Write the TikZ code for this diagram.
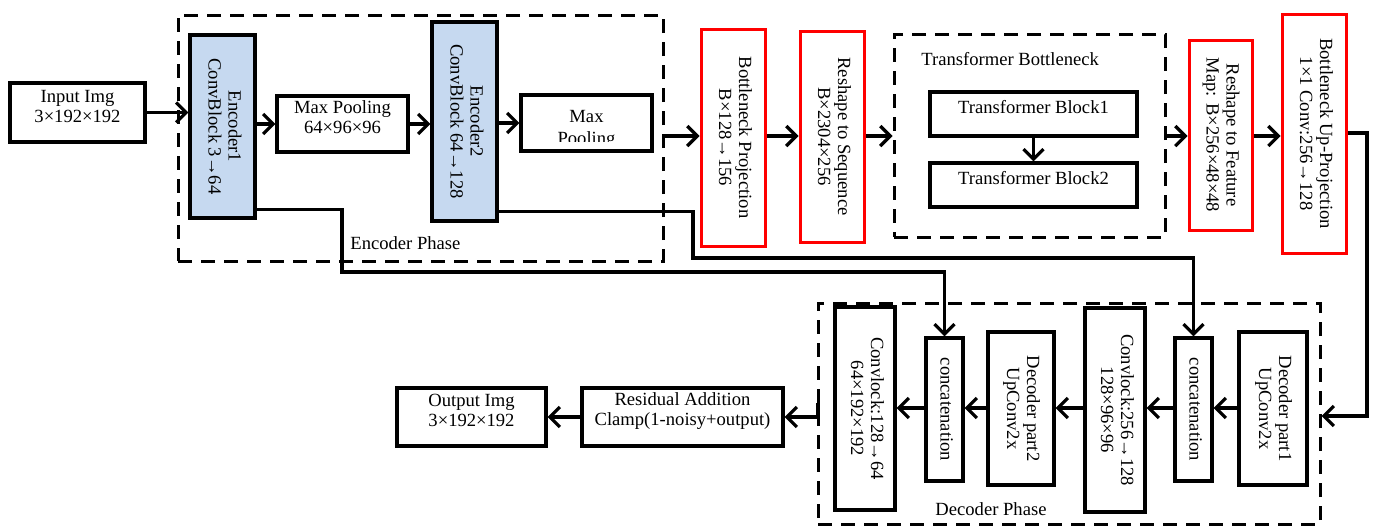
\documentclass[tikz,border=0pt]{standalone}
\usepackage{fontspec}
\setmainfont{Liberation Serif}
\usepackage{graphicx}
\usepackage{xcolor}
\usetikzlibrary{arrows.meta}
\usetikzlibrary{positioning, fit}

\definecolor{encblue}{RGB}{198,217,240}
\newcommand{\vlab}[1]{\rotatebox{-90}{\begin{tabular}{@{}c@{}}#1\end{tabular}}}

\begin{document}
\begin{tikzpicture}[x=0.5pt, y=-0.5pt,
    every node/.style={font=\fontsize{9.3}{10}\selectfont, inner sep=0pt},
    blk/.style={draw, line width=1.6pt, align=center},
    enc/.style={blk, fill=encblue},
    redblk/.style={draw=red, line width=1.5pt, align=center},
    phase/.style={draw, line width=1.5pt, dash pattern=on 7pt off 4.5pt},
    conn/.style={line width=1.6pt, -{Straight Barb[length=5pt,width=10pt]}}]
\useasboundingbox (0,0) rectangle (1374,526);

% encoder phase
\node[phase, fit={(178,15) (663,261)}] (encph) {};
\node[anchor=west] (encl) at (350,243) {Encoder Phase};
\node[blk, align=left, fit={(10,83) (145,142)}] (inimg) {Input Img\\3×192×192};
\node[enc, fit={(190,35) (255,218)}] (enc1) {\vlab{Encoder1\\ConvBlock 3→64}};
\node[blk, fit={(277,96) (408,152)}] (pool1) {Max Pooling\\64×96×96};
\node[enc, fit={(432,22) (497,221)}] (enc2) {\vlab{Encoder2\\ConvBlock 64→128}};
\node[blk, fit={(521,95) (652,151)}] (pool2) {};
\begin{scope}
  \clip (pool2.north west) rectangle ([yshift=5.5pt]pool2.south east);
  \node[align=center, font=\fontsize{9.3}{11}\selectfont] (pool2txt) at (586.5,129) {Max\\Pooling};
\end{scope}

% bottleneck
\node[redblk, fit={(701,29) (765,246)}] (bproj) {\vlab{Bottleneck Projection\\B×128→156}};
\node[redblk, fit={(800,31) (864,242)}] (rseq) {\vlab{Reshape to Sequence\\B×2304×256}};
\node[phase, fit={(894,34) (1165,237)}] (trph) {};
\node[anchor=west] (trl) at (921,59) {Transformer Bottleneck};
\node[blk, fit={(930,92) (1137,136)}] (tb1) {Transformer Block1};
\node[blk, fit={(930,163) (1137,207)}] (tb2) {Transformer Block2};
\node[redblk, fit={(1189,40) (1252,230)}] (rmap) {\vlab{Reshape to Feature\\Map: B×256×48×48}};
\node[redblk, fit={(1282,14) (1346,253)}] (upproj) {\vlab{Bottleneck Up-Projection\\1×1 Conv:256→128}};

% decoder phase
\node[phase, fit={(818,303) (1320,524)}] (decph) {};
\node (decl) at (991,509) {Decoder Phase};
\node[blk, fit={(835,307) (895,510)}] (dconv1) {\vlab{Convlock:128→64\\64×192×192}};
\node[blk, fit={(926,338) (963,481)}] (cat1) {\vlab{concatenation}};
\node[blk, fit={(988,332) (1054,485)}] (dup2) {\vlab{Decoder part2\\UpConv2x}};
\node[blk, fit={(1085,308) (1145,512)}] (dconv2) {\vlab{Convlock:256→128\\128×96×96}};
\node[blk, fit={(1175,338) (1212,481)}] (cat2) {\vlab{concatenation}};
\node[blk, fit={(1239,332) (1307,485)}] (dup1) {\vlab{Decoder part1\\UpConv2x}};

\node[blk, fit={(582,388) (783,446)}] (resid) {Residual Addition\\Clamp(1-noisy+output)};
\node[blk, fit={(397,388) (546,446)}] (outimg) {Output Img\\3×192×192};

% connectors
\coordinate (row) at (0,136);
\coordinate (uturn) at (1367,133);
\coordinate (din) at (1367,416);
\coordinate (drow) at (0,408);
\coordinate (dout) at (818,403);
\coordinate (sk1) at (342,272);
\coordinate (sk2) at (693,258);

\draw[conn] (inimg.east) -- (inimg.east -| enc1.west);
\draw[conn] (enc1.east |- pool1) -- (pool1.west);
\draw[conn] (pool1.east) -- (pool1.east -| enc2.west);
\draw[conn] (enc2.east |- pool2) -- (pool2.west);
\draw[conn] (encph.east |- row) -- (bproj.west |- row);
\draw[conn] (bproj.east |- row) -- (rseq.west |- row);
\draw[conn] (rseq.east |- row) -- (trph.west |- row);
\draw[conn] (tb1) -- (tb2);
\draw[conn] (trph.east |- row) -- (rmap.west |- row);
\draw[conn] (rmap.east |- row) -- (upproj.west |- row);
\draw[conn] (upproj.east |- uturn) -- (uturn) -- (din) -- (din -| decph.east);

\draw[conn] (dup1.west |- drow) -- (cat2.east |- drow);
\draw[conn] (cat2.west |- drow) -- (dconv2.east |- drow);
\draw[conn] (dconv2.west |- drow) -- (dup2.east |- drow);
\draw[conn] (dup2.west |- drow) -- (cat1.east |- drow);
\draw[conn] (cat1.west |- drow) -- (dconv1.east |- drow);
\draw[conn] (dout) |- (resid.east);
\draw[conn] (resid.west) -- (outimg.east);

% skip connections
\draw[conn] ([yshift=5pt]enc1.south east) -| (sk1) -| (cat1.north);
\draw[conn] ([yshift=5.5pt]enc2.south east) -| (sk2) -| (cat2.north);
\end{tikzpicture}
\end{document}
